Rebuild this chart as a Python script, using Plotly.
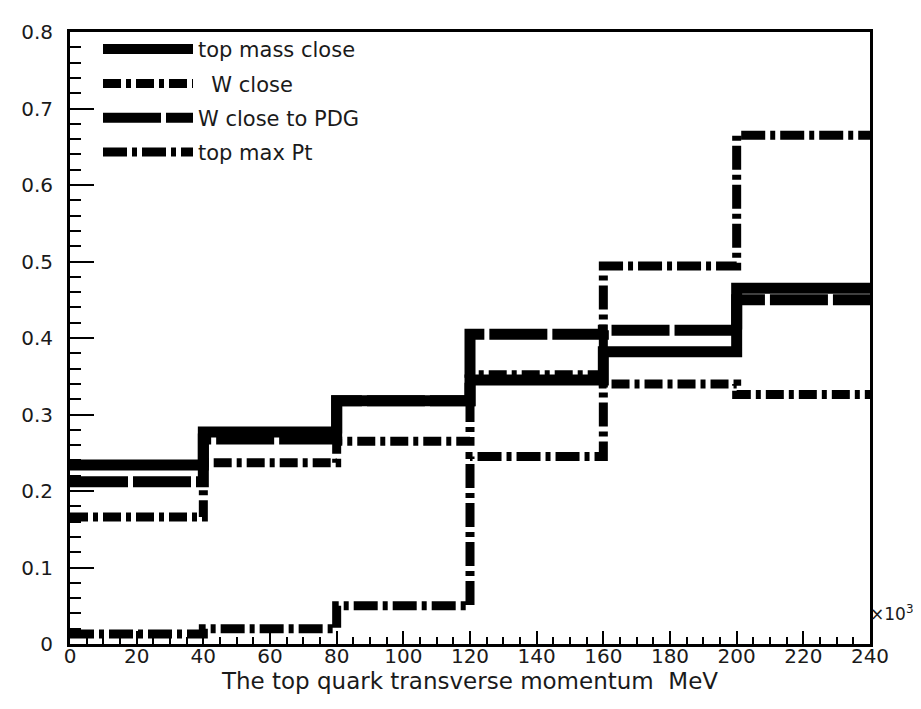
import plotly.graph_objects as go

# ---- data ----
bin_edges = [0, 40, 80, 120, 160, 200, 240]
top_mass_close = [0.234, 0.277, 0.318, 0.345, 0.382, 0.465]
w_close = [0.166, 0.237, 0.265, 0.352, 0.340, 0.326]
w_close_to_pdg = [0.212, 0.268, 0.318, 0.405, 0.410, 0.450]
top_max_pt = [0.013, 0.020, 0.050, 0.245, 0.494, 0.665]

series_names = ["top mass close", "  W close", "W close to PDG", "top max Pt"]
series_values = [top_mass_close, w_close, w_close_to_pdg, top_max_pt]
series_dash = ["solid", "18px,5px,5px,5px", "58px,5px", "24px,5px,5px,5px"]
series_width = [11, 9, 11, 9]

y_tickvals = [0, 0.1, 0.2, 0.3, 0.4, 0.5, 0.6, 0.7, 0.8]
y_ticktext = ["0", "0.1", "0.2", "0.3", "0.4", "0.5", "0.6", "0.7", "0.8"]

FONT = "DejaVu Sans, Liberation Sans, Arial, sans-serif"
TXT = "#1a1a1a"

fig = go.Figure()
for i, (name, vals, dash, w) in enumerate(zip(series_names, series_values, series_dash, series_width)):
    fig.add_trace(go.Scatter(
        x=bin_edges,
        y=vals + [vals[-1]],
        mode="lines",
        line=dict(shape="hv", color="black", width=w, dash=dash),
        name=name,
        legendgroup=f"g{i}",
    ))

fig.update_layout(
    width=921, height=709,
    margin=dict(l=62, r=59, t=17, b=73),
    plot_bgcolor="white", paper_bgcolor="white",
    font=dict(family=FONT, size=19, color=TXT),
    showlegend=True,
    legend=dict(
        x=0.035, y=1.005, xanchor="left", yanchor="top",
        bgcolor="rgba(0,0,0,0)", borderwidth=0,
        traceorder="grouped", tracegroupgap=4,
        itemwidth=90,
        font=dict(family=FONT, size=21, color=TXT),
    ),
)

fig.update_xaxes(
    range=[0, 240], showgrid=False, zeroline=False,
    showline=True, linecolor="black", linewidth=3, mirror=True,
    ticks="inside", ticklen=13, tickwidth=2, tickcolor="black",
    tick0=0, dtick=20, ticklabelstandoff=-8,
    minor=dict(ticks="inside", dtick=5, ticklen=7, tickwidth=2, tickcolor="black"),
    tickfont=dict(family=FONT, size=20, color=TXT),
    title=dict(text="The top quark transverse momentum  MeV",
               font=dict(family=FONT, size=23, color=TXT), standoff=0),
)
fig.update_yaxes(
    range=[0, 0.8], showgrid=False, zeroline=False,
    showline=True, linecolor="black", linewidth=3, mirror=True,
    ticks="inside", ticklen=24, tickwidth=2, tickcolor="black",
    tickvals=y_tickvals, ticktext=y_ticktext, ticklabelstandoff=10,
    minor=dict(ticks="inside", dtick=0.02, ticklen=11, tickwidth=2, tickcolor="black"),
    tickfont=dict(family=FONT, size=20, color=TXT),
)

fig.add_annotation(
    xref="paper", yref="paper", x=1.0, y=0.0, xanchor="left", yanchor="bottom",
    text="×10<sup>3</sup>", showarrow=False, xshift=-2, yshift=18,
    font=dict(family=FONT, size=17, color=TXT),
)

fig.write_html("out.html")
